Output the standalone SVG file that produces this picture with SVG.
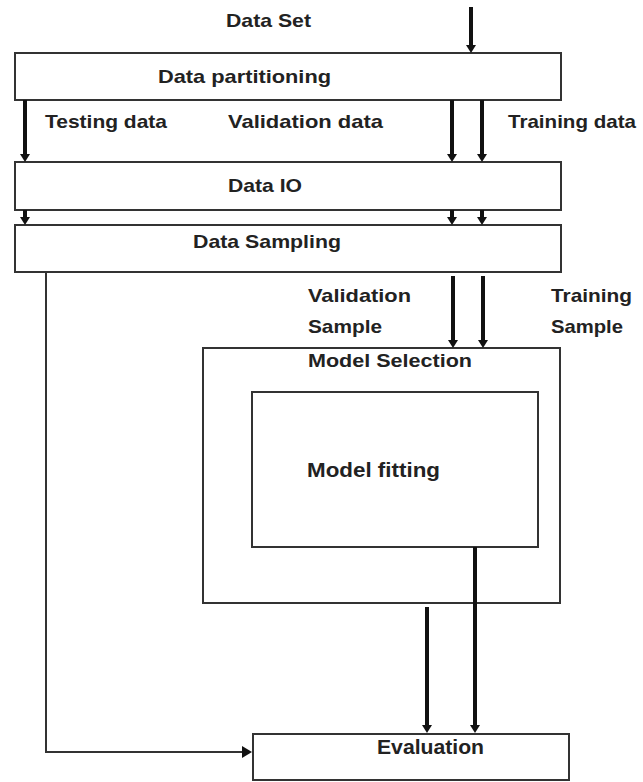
<svg xmlns="http://www.w3.org/2000/svg" width="643" height="782" viewBox="0 0 643 782">
<style>
  .box { fill: #ffffff; stroke: #333333; stroke-width: 2; }
  .lbl { font-family: "Liberation Sans", Arial, sans-serif; font-weight: bold; font-size: 19px; fill: #222222; }
  .big { font-size: 21px; }
  .thick { stroke: #111111; stroke-width: 4; fill: none; }
  .thin { stroke: #333333; stroke-width: 2; fill: none; }
</style>
<defs>
  <marker id="ah" markerUnits="userSpaceOnUse" markerWidth="8" markerHeight="10" refX="0" refY="5" orient="auto">
    <path d="M0,0 L8,5 L0,10 z" fill="#111111"/>
  </marker>
  <marker id="ahs" markerUnits="userSpaceOnUse" markerWidth="10" markerHeight="12" refX="0" refY="6" orient="auto">
    <path d="M0,0 L10,6 L0,12 z" fill="#111111"/>
  </marker>
</defs>
<rect width="643" height="782" fill="#ffffff"/>

<g id="dataset-label">
  <text class="lbl" x="226" y="27" textLength="85" lengthAdjust="spacingAndGlyphs">Data Set</text>
</g>

<g id="data-partitioning">
  <rect class="box" x="15" y="53" width="546" height="47"/>
  <text class="lbl" x="158" y="83" textLength="173" lengthAdjust="spacingAndGlyphs">Data partitioning</text>
</g>

<g id="data-io">
  <rect class="box" x="15" y="162" width="546" height="48"/>
  <text class="lbl" x="228" y="192" textLength="74" lengthAdjust="spacingAndGlyphs">Data IO</text>
</g>

<g id="data-sampling">
  <rect class="box" x="15" y="225" width="546" height="47"/>
  <text class="lbl" x="193" y="248" textLength="148" lengthAdjust="spacingAndGlyphs">Data Sampling</text>
</g>

<g id="model-selection">
  <rect class="box" x="203" y="348" width="357" height="255"/>
  <text class="lbl" x="308" y="367" textLength="164" lengthAdjust="spacingAndGlyphs">Model Selection</text>
</g>

<g id="model-fitting">
  <rect class="box" x="252" y="392" width="286" height="155"/>
  <text class="lbl big" x="307" y="477" textLength="133" lengthAdjust="spacingAndGlyphs">Model fitting</text>
</g>

<g id="evaluation">
  <rect class="box" x="253" y="734" width="316" height="46"/>
  <text class="lbl big" x="377" y="754" textLength="107" lengthAdjust="spacingAndGlyphs">Evaluation</text>
</g>

<g id="connectors">
  <line class="thick" x1="471" y1="7" x2="471" y2="45" marker-end="url(#ah)"/>
  <line class="thick" x1="25" y1="100" x2="25" y2="154" marker-end="url(#ah)"/>
  <line class="thick" x1="452" y1="100" x2="452" y2="154" marker-end="url(#ah)"/>
  <line class="thick" x1="482" y1="100" x2="482" y2="154" marker-end="url(#ah)"/>
  <line class="thick" x1="25" y1="210" x2="25" y2="217" marker-end="url(#ah)"/>
  <line class="thick" x1="452" y1="210" x2="452" y2="217" marker-end="url(#ah)"/>
  <line class="thick" x1="482" y1="210" x2="482" y2="217" marker-end="url(#ah)"/>
  <line class="thick" x1="453" y1="276" x2="453" y2="340" marker-end="url(#ah)"/>
  <line class="thick" x1="483" y1="276" x2="483" y2="340" marker-end="url(#ah)"/>
  <line class="thick" x1="475" y1="547" x2="475" y2="725" marker-end="url(#ah)"/>
  <line class="thick" x1="427" y1="607" x2="427" y2="725" marker-end="url(#ah)"/>
  <polyline class="thin" points="46,272 46,752 242,752" marker-end="url(#ahs)"/>
  <text class="lbl" x="45" y="128" textLength="122" lengthAdjust="spacingAndGlyphs">Testing data</text>
  <text class="lbl" x="228" y="128" textLength="155" lengthAdjust="spacingAndGlyphs">Validation data</text>
  <text class="lbl" x="508" y="128" textLength="128" lengthAdjust="spacingAndGlyphs">Training data</text>
  <text class="lbl" x="308" y="302" textLength="103" lengthAdjust="spacingAndGlyphs">Validation</text>
  <text class="lbl" x="308" y="333" textLength="74" lengthAdjust="spacingAndGlyphs">Sample</text>
  <text class="lbl" x="551" y="302" textLength="81" lengthAdjust="spacingAndGlyphs">Training</text>
  <text class="lbl" x="551" y="333" textLength="72" lengthAdjust="spacingAndGlyphs">Sample</text>
</g>
</svg>
